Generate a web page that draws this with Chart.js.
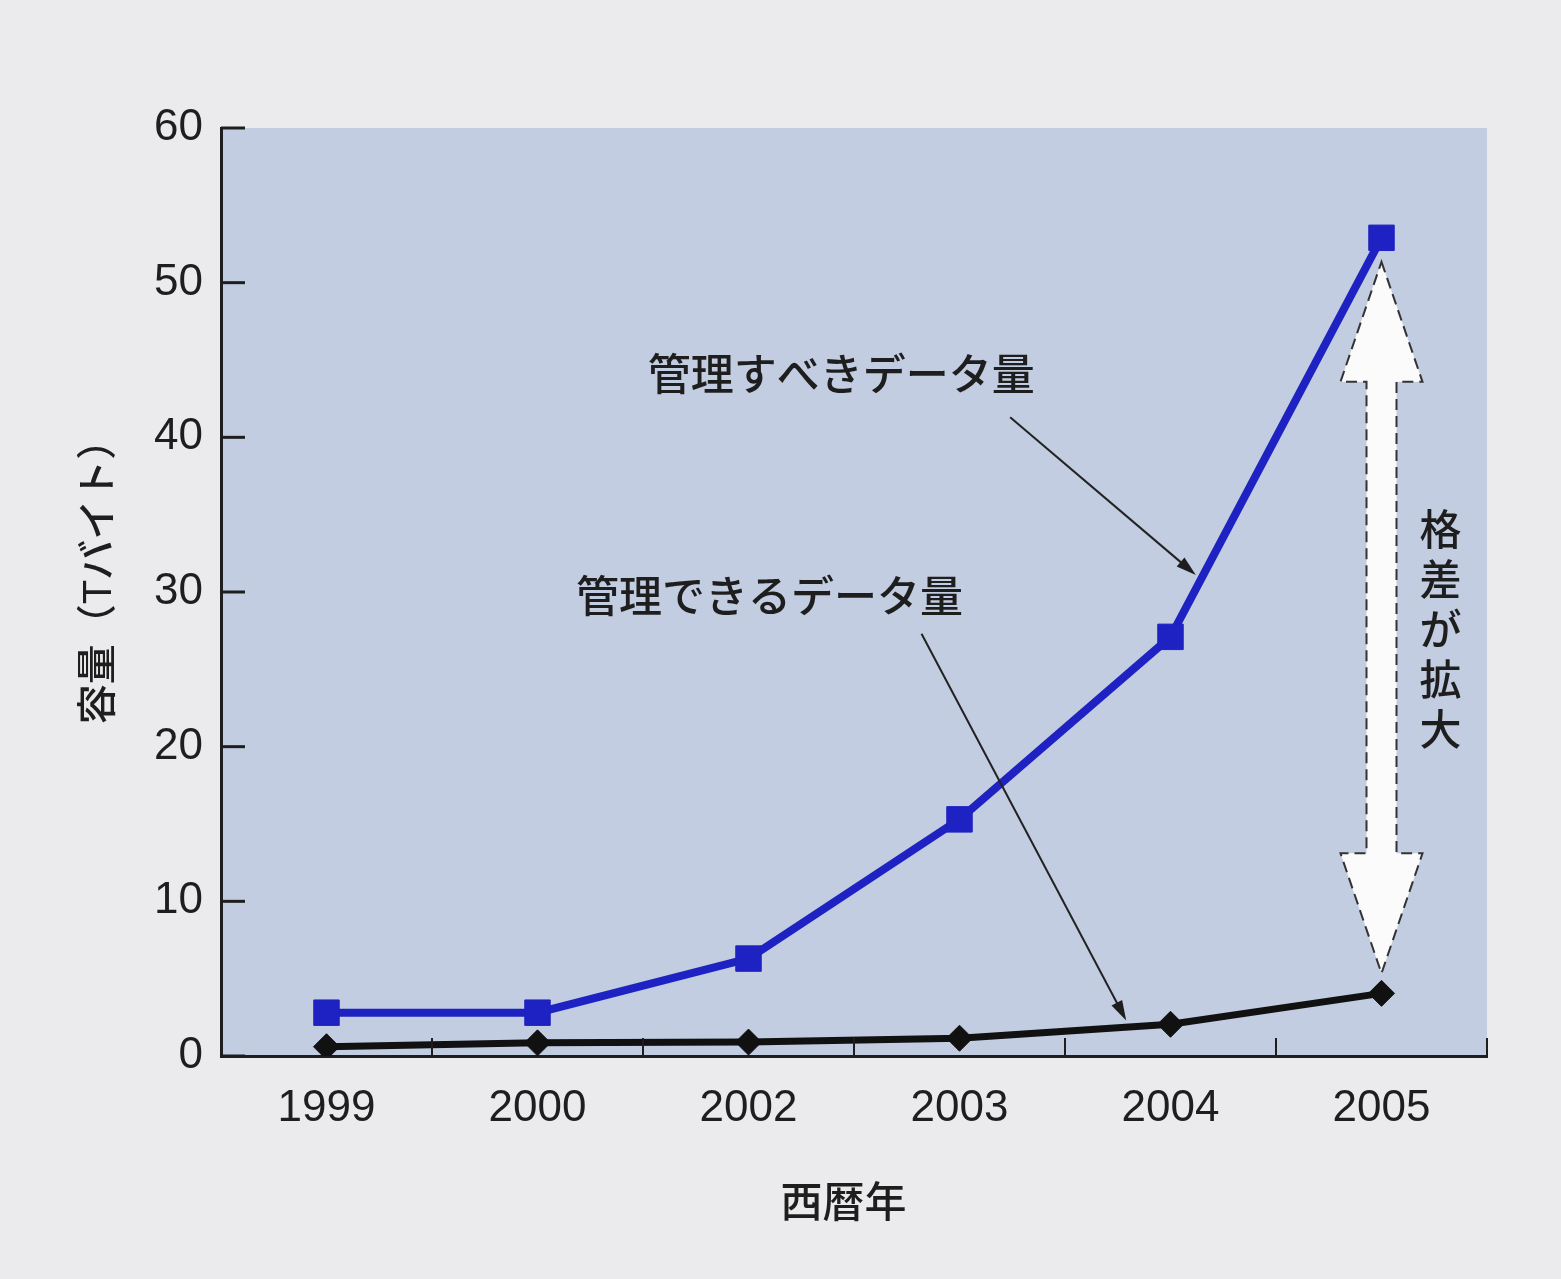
<!DOCTYPE html>
<html lang="ja">
<head>
<meta charset="utf-8">
<title>管理すべきデータ量と管理できるデータ量</title>
<script src="https://cdn.jsdelivr.net/npm/chart.js@4.4.1/dist/chart.umd.min.js"></script>
<style>
  html, body { margin: 0; padding: 0; background: #ebebed; overflow: hidden; }
  canvas { display: block; }
</style>
</head>
<body>
<canvas id="gapChart" width="1561" height="1279"></canvas>
<script>
// data
const years = ['1999', '2000', '2002', '2003', '2004', '2005'];
const shouldManage = [2.8, 2.8, 6.3, 15.3, 27.1, 52.9];   // 管理すべきデータ量
const canManage = [0.6, 0.85, 0.9, 1.15, 2.05, 4.05];      // 管理できるデータ量
const yTicks = [0, 10, 20, 30, 40, 50, 60];

const FONT = '"Liberation Sans", "Noto Sans CJK JP", sans-serif';
const INK = '#1e1e1e';

// background + plot area fill
const backdrop = {
    id: 'backdrop',
    beforeDraw(chart) {
        const { ctx, chartArea: a } = chart;
        ctx.save();
        ctx.fillStyle = '#ebebed';
        ctx.fillRect(0, 0, chart.width, chart.height);
        ctx.fillStyle = '#c2cde1';
        ctx.fillRect(a.left, a.top, a.right - a.left, a.bottom - a.top);
        ctx.restore();
    }
};

// tick marks pointing into the plot
const innerTicks = {
    id: 'innerTicks',
    afterDraw(chart) {
        const { ctx, chartArea: a, scales } = chart;
        ctx.save();
        ctx.strokeStyle = INK;
        ctx.lineWidth = 3;
        yTicks.forEach(v => {
            const y = scales.y.getPixelForValue(v);
            ctx.beginPath();
            ctx.moveTo(a.left, y);
            ctx.lineTo(a.left + 24, y);
            ctx.stroke();
        });
        ctx.lineWidth = 2;
        const step = scales.x.getPixelForValue(1) - scales.x.getPixelForValue(0);
        for (let i = 1; i <= years.length; i++) {
            const x = scales.x.getPixelForValue(i - 1) + step / 2;
            ctx.beginPath();
            ctx.moveTo(x, a.bottom);
            ctx.lineTo(x, a.bottom - 18);
            ctx.stroke();
        }
        ctx.restore();
    }
};

function arrow(ctx, x1, y1, x2, y2) {
    const ang = Math.atan2(y2 - y1, x2 - x1);
    const len = 20, half = 6;
    ctx.beginPath();
    ctx.moveTo(x1, y1);
    ctx.lineTo(x2 - Math.cos(ang) * len * 0.8, y2 - Math.sin(ang) * len * 0.8);
    ctx.stroke();
    ctx.beginPath();
    ctx.moveTo(x2, y2);
    ctx.lineTo(x2 - Math.cos(ang) * len - Math.sin(ang) * half, y2 - Math.sin(ang) * len + Math.cos(ang) * half);
    ctx.lineTo(x2 - Math.cos(ang) * len + Math.sin(ang) * half, y2 - Math.sin(ang) * len - Math.cos(ang) * half);
    ctx.closePath();
    ctx.fill();
}

// labels, pointer arrows and the "gap" double arrow
const notes = {
    id: 'notes',
    afterDatasetsDraw(chart) {
        const { ctx, scales: { x, y } } = chart;
        const step = x.getPixelForValue(1) - x.getPixelForValue(0);
        const px = i => x.getPixelForValue(0) + i * step;
        ctx.save();
        ctx.fillStyle = INK;
        ctx.strokeStyle = '#222';
        ctx.font = '500 43px ' + FONT;
        ctx.textAlign = 'center';
        ctx.textBaseline = 'middle';
        ctx.fillText('管理すべきデータ量', px(2.44), y.getPixelForValue(43.8));
        ctx.fillText('管理できるデータ量', px(2.1), y.getPixelForValue(29.5));

        ctx.lineWidth = 2;
        arrow(ctx, px(3.24), y.getPixelForValue(41.3), px(4.12), y.getPixelForValue(31.1));
        arrow(ctx, px(2.82), y.getPixelForValue(27.3), px(3.79), y.getPixelForValue(2.3));

        // double arrow at 2005
        const cx = x.getPixelForValue(5);
        const yt = y.getPixelForValue(shouldManage[5]) + 24;
        const yb = y.getPixelForValue(canManage[5]) - 20;
        const head = 120, hw = 41, sw = 15;
        ctx.beginPath();
        ctx.moveTo(cx, yt);
        ctx.lineTo(cx + hw, yt + head);
        ctx.lineTo(cx + sw, yt + head);
        ctx.lineTo(cx + sw, yb - head);
        ctx.lineTo(cx + hw, yb - head);
        ctx.lineTo(cx, yb);
        ctx.lineTo(cx - hw, yb - head);
        ctx.lineTo(cx - sw, yb - head);
        ctx.lineTo(cx - sw, yt + head);
        ctx.lineTo(cx - hw, yt + head);
        ctx.closePath();
        ctx.fillStyle = '#fbfbfb';
        ctx.fill();
        ctx.setLineDash([11, 6]);
        ctx.strokeStyle = '#333';
        ctx.lineWidth = 2;
        ctx.stroke();
        ctx.setLineDash([]);

        // vertical caption
        ctx.fillStyle = INK;
        ctx.font = '500 42px ' + FONT;
        const tx = px(5.28);
        const ty = y.getPixelForValue(33.8);
        '格差が拡大'.split('').forEach((ch, k) => ctx.fillText(ch, tx, ty + k * 50));
        ctx.restore();
    }
};

new Chart(document.getElementById('gapChart').getContext('2d'), {
    type: 'line',
    data: {
        labels: years,
        datasets: [
            {
                label: '管理できるデータ量',
                data: canManage,
                borderColor: '#111111',
                backgroundColor: '#111111',
                borderWidth: 7,
                pointStyle: 'rectRot',
                pointRadius: 13,
                pointBorderWidth: 1,
                tension: 0,
                fill: false,
            },
            {
                label: '管理すべきデータ量',
                data: shouldManage,
                borderColor: '#1f22c2',
                backgroundColor: '#1f22c2',
                borderWidth: 8,
                pointStyle: 'rect',
                pointRadius: 18,
                pointBorderWidth: 1,
                tension: 0,
                fill: false,
            }
        ]
    },
    options: {
        responsive: false,
        animation: false,
        layout: { padding: { top: 128, right: 74, bottom: 0, left: 0 } },
        plugins: {
            legend: { display: false },
            tooltip: { enabled: false }
        },
        scales: {
            x: {
                type: 'category',
                offset: true,
                grid: { display: false, drawTicks: false },
                border: { display: true, color: INK, width: 3 },
                ticks: { color: INK, font: { family: FONT, size: 44 }, padding: 26, maxRotation: 0 },
                title: {
                    display: true,
                    text: '西暦年\u2002',
                    color: INK,
                    font: { family: FONT, size: 42, weight: '500' },
                    padding: { top: 0, bottom: 48 }
                },
                afterFit(scale) { scale.height = 223; }
            },
            y: {
                min: 0,
                max: 60,
                grid: { display: false, drawTicks: false },
                border: { display: true, color: INK, width: 3 },
                ticks: { stepSize: 10, color: INK, font: { family: FONT, size: 44 }, padding: 18 },
                title: {
                    display: true,
                    text: '\u3000容量（Tバイト）',
                    color: INK,
                    font: { family: FONT, size: 40, weight: '500' },
                    padding: { top: 76, bottom: 0 }
                },
                afterFit(scale) { scale.width = 221; }
            }
        }
    },
    plugins: [backdrop, innerTicks, notes]
});
</script>
</body>
</html>
